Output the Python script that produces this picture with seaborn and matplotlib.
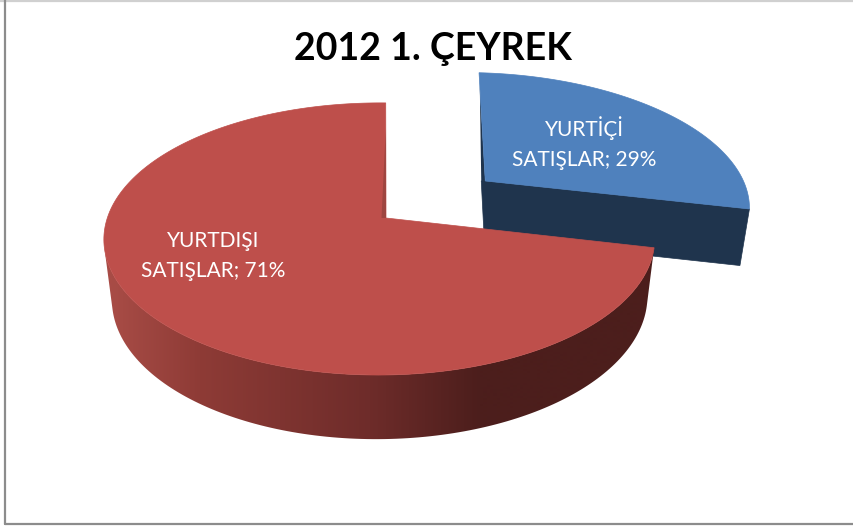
import numpy as np
import matplotlib
matplotlib.use("Agg")
import matplotlib.pyplot as plt
from matplotlib.patches import Polygon
import seaborn as sns

title = "2012 1. ÇEYREK"
labels = ["YURTİÇİ\nSATIŞLAR", "YURTDIŞI\nSATIŞLAR"]
values = [29, 71]

# slice styling
top_colors = ["#4F81BD", "#BE4F4B"]
face_colors = ["#1F344D", "#4C1E1C"]
span_scale = [0.965, 1.006]
slice_start = [1.7, 102.8]
slice_offset = [(0.3848, 0.2940), (0.0, 0.0)]
slice_radius = [1.035, 1.0]
label_pos = [(584, 143), (213, 256)]
gradient_x = [0, 112, 200, 370, 480, 854]
gradient_colors = ["#A84C46", "#A84C46", "#8E3B36", "#6E2C2A", "#4C1E1C", "#4C1E1C"]

sns.set_theme(style="white")
plt.rcParams["font.family"] = ["Lato", "DejaVu Sans"]

# projective camera for the tilted pie
CX, CY = 386.0, 218.0
A, B = 272.0, 132.8
K, J, M, E = 0.154, 0.024, 0.028, 60.4


def project(u, v, depth=0.0):
    w = 1 + K * v + J * u + M * depth
    return CX + A * u / w, CY + (-B * v + E * depth) / w


def arc(idx, n=240):
    t0 = slice_start[idx]
    span = values[idx] / sum(values) * 360 * span_scale[idx]
    t = np.radians(np.linspace(t0, t0 + span, n))
    r = slice_radius[idx]
    du, dv = slice_offset[idx]
    return du + r * np.sin(t), dv + r * np.cos(t), np.degrees(t)


fig = plt.figure(figsize=(8.54, 5.26), dpi=100)
ax = fig.add_axes([0, 0, 1, 1])

# chart frame
ax.plot([0, 854], [0.5, 0.5], color="#D0D0D0", lw=1.6)
ax.plot([5, 5], [0, 524], color="#8C8C8C", lw=1.6)
ax.plot([5, 854], [524, 524], color="#8C8C8C", lw=1.6)

# blue slice (exploded), drawn behind the red one
u, v, _ = arc(0)
du, dv = slice_offset[0]
px, py = project(np.r_[du, u], np.r_[dv, v])
bx0, by0 = project(du, dv, 1)
bx1, by1 = project(u[-1], v[-1], 1)
ax.fill([px[0] - 4, px[0], px[-1], bx1, bx0 + 1.5], [py[0], py[0], py[-1], by1, by0],
        color=face_colors[0], lw=0.5, zorder=2)
# thin sliver along the cut of the blue slice
sx, sy = project(du + 0.87 * (u[0] - du), dv + 0.87 * (v[0] - dv))
ax.fill([sx, px[0], px[0] - 4], [sy, py[0], py[0]], color=face_colors[0], lw=0, zorder=2)
ax.fill(px, py, color=top_colors[0], lw=0.5, zorder=3)

# red slice with shaded rim
u, v, t = arc(1)
xs = np.arange(0, 855)
stops = np.array([matplotlib.colors.to_rgb(c) for c in gradient_colors])
ramp = np.stack([np.interp(xs, gradient_x, stops[:, i]) for i in range(3)], axis=1)
near = t <= 258
rx, ry = project(u[near], v[near])
lx, ly = project(u[near], v[near], 1)
rim = Polygon(np.c_[np.r_[rx, lx[::-1]], np.r_[ry, ly[::-1]]], closed=True,
              facecolor="none", edgecolor="none", transform=ax.transData)
ax.add_patch(rim)
img = ax.imshow(ramp[None, :, :], extent=[0, 854, 526, 0], aspect="auto",
                interpolation="bilinear", zorder=5)
img.set_clip_path(rim)
px, py = project(np.r_[0, u], np.r_[0, v])
ax.fill(px, py, color=top_colors[1], lw=0.5, zorder=6)
# thin darker sliver along the cut of the red slice
sx, sy = project(0.75 * u[-1], 0.75 * v[-1])
ax.fill([sx, px[0], px[0] - 4.5], [sy, py[0], py[0]], color="#9E4540", lw=0, zorder=7)

# text
ax.text(433, 60, title, ha="center", va="baseline", fontsize=27,
        fontweight="bold", color="black", zorder=9)
for lab, val, (x, y) in zip(labels, values, label_pos):
    ax.text(x, y, f"{lab}; {val}%", ha="center", va="center", fontsize=15,
            color="white", linespacing=1.65, zorder=9)

ax.set_xlim(0, 854)
ax.set_ylim(526, 0)
ax.axis("off")
fig.savefig("out.png", dpi=100, facecolor="white")
